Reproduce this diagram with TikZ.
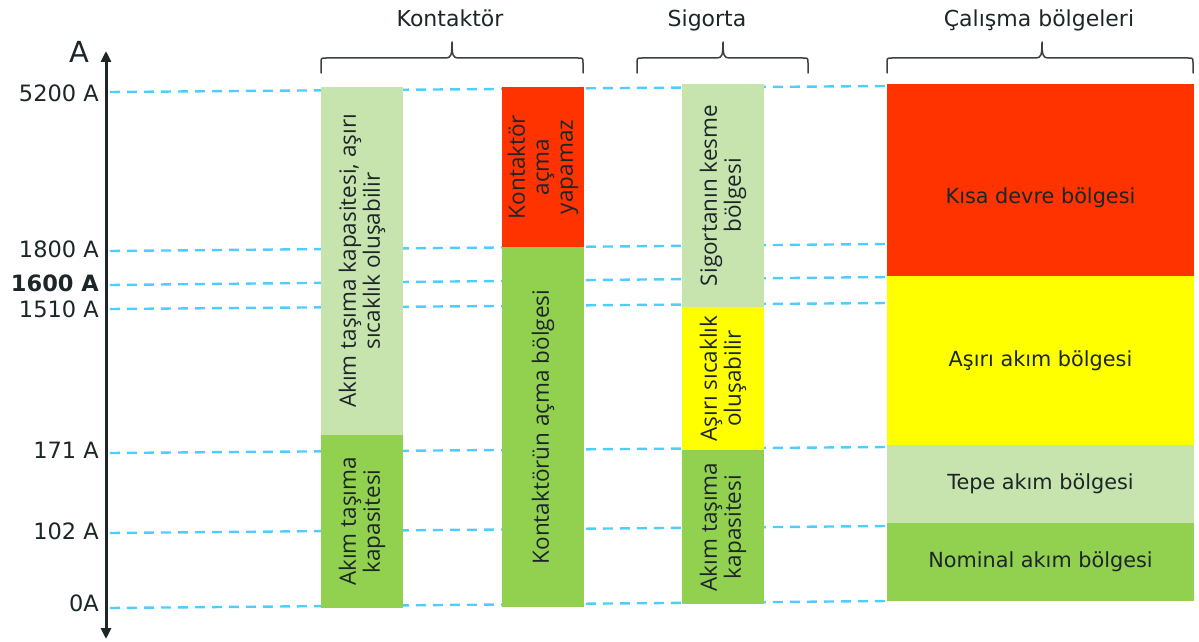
\documentclass[tikz,border=0pt]{standalone}
\usepackage{fontspec}
\setmainfont{DejaVu Sans}
\newfontfamily\boxfont{Open Sans}
\usetikzlibrary{arrows.meta}

\definecolor{lgreen}{RGB}{200,228,174}
\definecolor{mgreen}{RGB}{146,208,80}
\definecolor{hotred}{RGB}{255,51,0}
\definecolor{sunyellow}{RGB}{255,255,0}
\definecolor{guidecyan}{RGB}{80,205,255}
\definecolor{ink}{RGB}{28,38,40}
\definecolor{bracegray}{RGB}{60,64,66}

\begin{document}
\begin{tikzpicture}[x=1pt,y=-1pt,
  guide/.style={draw=guidecyan, line width=2.4pt, dash pattern=on 10pt off 7pt},
  colbox/.style={rotate=90, inner sep=0pt, outer sep=0pt, align=center, text=ink,
    minimum height=82pt, font=\boxfont\fontsize{22.5}{24}\selectfont},
  zone/.style={inner sep=0pt, outer sep=0pt, minimum width=307pt, text=ink,
    font=\fontsize{20.8}{24}\selectfont},
  ticklabel/.style={anchor=base east, inner sep=0pt, text=ink, font=\fontsize{22.5}{24}\selectfont},
  title/.style={anchor=base, inner sep=0pt, text=ink, font=\fontsize{22}{24}\selectfont},
  bracket/.style={draw=bracegray, line width=1.5pt, line cap=round, line join=round}]

\useasboundingbox (0,0) rectangle (1199,642);

% current axis
\coordinate (atop) at (106,51);
\coordinate (abot) at (106,639);
\draw[line width=3pt, draw=ink,
  {Triangle[length=11pt,width=10pt]}-{Triangle[length=11pt,width=10pt]}] (abot) -- (atop);
\node[anchor=base, inner sep=0pt, text=ink, font=\fontsize{29}{32}\selectfont] (aname) at (79,63) {A};

% level labels
\node[ticklabel] (t5200) at (99,101) {5200 A};
\node[ticklabel] (t1800) at (99,257) {1800 A};
\node[ticklabel, font=\bfseries\fontsize{22.5}{24}\selectfont] (t1600) at (99,291) {1600 A};
\node[ticklabel] (t1510) at (99,317) {1510 A};
\node[ticklabel] (t171) at (99,458) {171 A};
\node[ticklabel] (t102) at (99,539) {102 A};
\node[ticklabel] (t0) at (99,611) {0A};

% dashed level guides
\foreach \nm/\ya/\yb in {5200/92/86, 1800/251/244, 1600/285/277, 1510/309/303,
                         171/453/447, 102/533/526, 0/608/601} {
  \coordinate (gl\nm) at (110,\ya);
  \coordinate (gr\nm) at (887,\yb);
  \draw[guide] (gl\nm) -- (gr\nm);
}

% contactor columns
\node[colbox, fill=lgreen, minimum width=348pt] (kA1) at (362,261)
  {Akım taşıma kapasitesi, aşırı\\sıcaklık oluşabilir};
\node[colbox, fill=mgreen, minimum width=173pt] (kA2) at (362,521.5)
  {Akım taşıma\\kapasitesi};
\node[colbox, fill=hotred, minimum width=160pt] (kB1) at (543,167)
  {Kontaktör\\açma\\yapamaz};
\node[colbox, fill=mgreen, minimum width=360pt] (kB2) at (543,427)
  {Kontaktörün açma bölgesi};

% fuse column
\node[colbox, fill=lgreen, minimum width=223pt] (f1) at (723,195.5)
  {Sigortanın kesme\\bölgesi};
\node[colbox, fill=sunyellow, minimum width=143pt] (f2) at (723,378.5)
  {Aşırı sıcaklık\\oluşabilir};
\node[colbox, fill=mgreen, minimum width=154pt] (f3) at (723,527)
  {Akım taşıma\\kapasitesi};

% operating zones
\node[zone, fill=hotred, minimum height=192pt] (z1) at (1040.5,180) {};
\node[zone, anchor=center] (z1t) at (1040.5,198) {Kısa devre bölgesi};
\node[zone, fill=sunyellow, minimum height=169pt] (z2) at (1040.5,360.5) {Aşırı akım bölgesi};
\node[zone, fill=lgreen, minimum height=78pt] (z3) at (1040.5,484) {Tepe akım bölgesi};
\node[zone, fill=mgreen, minimum height=78pt] (z4) at (1040.5,562) {Nominal akım bölgesi};

% group titles
\node[title] (hK) at (450,26.5) {Kontaktör};
\node[title] (hS) at (707,26.5) {Sigorta};
\node[title] (hC) at (1039,26.5) {Çalışma bölgeleri};

% group brackets
\foreach \xa/\xm/\xb in {321/452/583, 637/723/808, 887/1042/1193} {
  \draw[bracket] (\xa,73) -- (\xa,63) .. controls (\xa,58) .. (\xa+5,58)
    -- (\xm-6,58) .. controls (\xm-1,58) and (\xm,55) .. (\xm,42)
    .. controls (\xm,55) and (\xm+1,58) .. (\xm+6,58)
    -- (\xb-5,58) .. controls (\xb,58) .. (\xb,63) -- (\xb,73);
}

\end{tikzpicture}
\end{document}
